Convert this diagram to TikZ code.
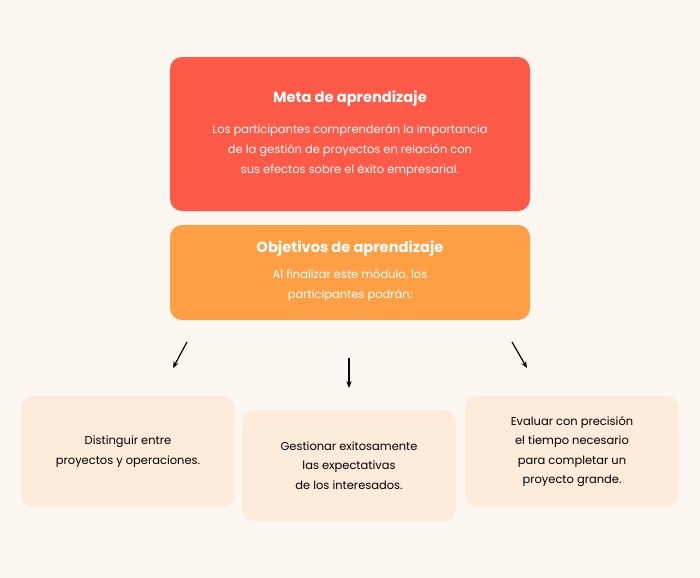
\documentclass[tikz,border=0pt]{standalone}
\usepackage{fontspec}
\setmainfont{Poppins}
\usetikzlibrary{arrows.meta}
\definecolor{bgcream}{HTML}{FDF7F2}
\definecolor{goalred}{HTML}{FF5A47}
\definecolor{objorange}{HTML}{FF9F45}
\definecolor{itempeach}{HTML}{FDEBDB}
\tikzset{
  goalbox/.style={fill=goalred,rounded corners=9pt,minimum width=270pt,minimum height=115.5pt,text=white,align=center,inner sep=0pt},
  objbox/.style={fill=objorange,rounded corners=9pt,minimum width=270pt,minimum height=71.25pt,text=white,align=center,inner sep=0pt},
  itembox/.style={fill=itempeach,rounded corners=9pt,minimum width=160.5pt,minimum height=83.25pt,align=center,inner sep=0pt,font=\fontsize{8.6}{14.5}\selectfont},
  arr/.style={-{Stealth[length=5pt,width=4pt]},line width=0.9pt}
}
\begin{document}
\begin{tikzpicture}[x=0.75pt,y=-0.75pt]
\fill[bgcream] (0,0) rectangle (700,578);
\useasboundingbox (0,0) rectangle (700,578);
\node[goalbox] (goal) at (350,134) {};
\node[text=white,font=\bfseries\fontsize{11}{13}\selectfont] (goaltitle) at (350,99) {Meta de aprendizaje};
\node[text=white,align=center,font=\fontsize{8.6}{15}\selectfont] (goaltext) at (350,151) {Los participantes comprenderán la importancia\\de la gestión de proyectos en relación con\\sus efectos sobre el éxito empresarial.};
\node[objbox] (obj) at (350,272.5) {};
\node[text=white,font=\bfseries\fontsize{11}{13}\selectfont] (objtitle) at (350,249) {Objetivos de aprendizaje};
\node[text=white,align=center,font=\fontsize{8.6}{15}\selectfont] (objtext) at (350,285) {Al finalizar este módulo, los\\participantes podrán:};
\node[itembox] (left) at (128,451.5) {Distinguir entre\\proyectos y operaciones.};
\node[itembox] (mid) at (349,465.5) {Gestionar exitosamente\\las expectativas\\de los interesados.};
\node[itembox] (right) at (572,451.5) {Evaluar con precisión\\el tiempo necesario\\para completar un\\proyecto grande.};
\coordinate (la) at (187,342); \coordinate (lb) at (173,368);
\coordinate (ma) at (349,358); \coordinate (mb) at (349,388);
\coordinate (ra) at (512,342); \coordinate (rb) at (527,368);
\draw[arr] (la) -- (lb);
\draw[arr] (ma) -- (mb);
\draw[arr] (ra) -- (rb);
\end{tikzpicture}
\end{document}
